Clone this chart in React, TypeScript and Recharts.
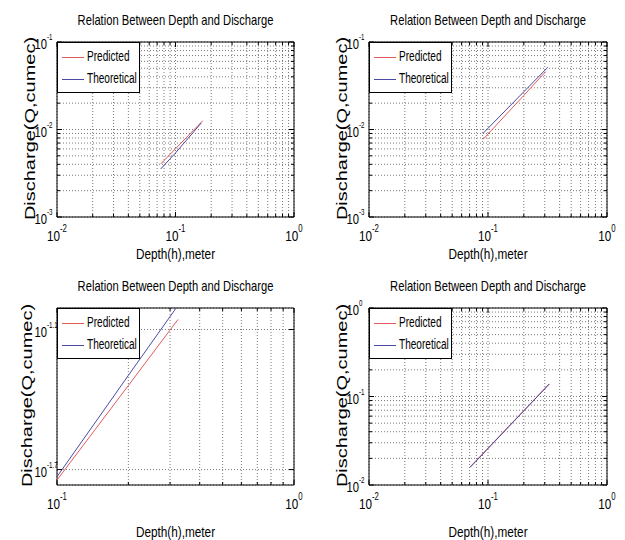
import React from 'react';
import { LineChart, Line, XAxis, YAxis, CartesianGrid, Legend, ReferenceArea } from 'recharts';

const FONT = "'Liberation Sans', Arial, sans-serif";
const RED = '#e05a5c';
const BLUE = '#4a4aa4';
const TITLE = 'Relation Between Depth and Discharge';

// depth (m) and discharge (cumec)
const depth1Pred = [0.075, 0.1, 0.17];
const flow1Pred = [0.00403, 0.00603, 0.01262];
const depth1Theo = [0.075, 0.1, 0.165];
const flow1Theo = [0.00354, 0.0054, 0.01187];

const depth2Pred = [0.091, 0.2, 0.305];
const flow2Pred = [0.00773, 0.0245, 0.0458];
const depth2Theo = [0.091, 0.2, 0.318];
const flow2Theo = [0.00906, 0.027, 0.0514];

const depth3Pred = [0.1, 0.2, 0.324];
const flow3Pred = [0.018, 0.0457, 0.0877];
const depth3Theo = [0.1, 0.2, 0.34];
const flow3Theo = [0.0186, 0.0505, 0.108];

const depth4Pred = [0.0707, 0.15, 0.327];
const flow4Pred = [0.016, 0.0462, 0.139];
const depth4Theo = [0.0707, 0.15, 0.327];
const flow4Theo = [0.0158, 0.0458, 0.138];

// ticks (grid lines) and labelled ticks
const ticksE2toE0 = [0.01, 0.02, 0.03, 0.04, 0.05, 0.06, 0.07, 0.08, 0.09, 0.1, 0.2, 0.3, 0.4, 0.5, 0.6, 0.7, 0.8, 0.9, 1];
const ticksE3toE1 = [0.001, 0.002, 0.003, 0.004, 0.005, 0.006, 0.007, 0.008, 0.009, 0.01, 0.02, 0.03, 0.04, 0.05, 0.06, 0.07, 0.08, 0.09, 0.1];
const ticksE1toE0 = [0.1, 0.2, 0.3, 0.4, 0.5, 0.6, 0.7, 0.8, 0.9, 1];
const ticksPanel3Y = [0.019953, 0.079433];
const labelsE2toE0 = [0.01, 0.1, 1];
const labelsE3toE1 = [0.001, 0.01, 0.1];
const labelsE1toE0 = [0.1, 1];

const zip = (xs: number[], ys: number[]) => xs.map((x, i) => ({ x, y: ys[i] }));

const expText = (v: number) => {
  const e = Math.log10(v);
  return Math.abs(e - Math.round(e)) < 1e-4 ? String(Math.round(e)) : e.toFixed(1);
};
const isLabel = (labels: number[], v: number) => labels.some((l) => Math.abs(l - v) / l < 1e-4);

const XTick = (props: any) => {
  const { x, y, payload, plotTop, labels } = props;
  const lab = isLabel(labels, payload.value);
  const len = lab ? 5 : 3;
  return (
    <g>
      <line x1={x} x2={x} y1={y} y2={y - len} stroke="#000" />
      <line x1={x} x2={x} y1={plotTop} y2={plotTop + len} stroke="#000" />
      {lab && (
        <text transform={`translate(${x},${y + 24}) scale(0.78,1)`} textAnchor="middle"
          fontFamily={FONT} fontSize={15} fill="#000">
          10<tspan dy={-9} fontSize={10}>{expText(payload.value)}</tspan>
        </text>
      )}
    </g>
  );
};

const YTick = (props: any) => {
  const { x, y, payload, plotRight, labels } = props;
  const lab = isLabel(labels, payload.value);
  const len = lab ? 5 : 3;
  return (
    <g>
      <line x1={x} x2={x + len} y1={y} y2={y} stroke="#000" />
      <line x1={plotRight} x2={plotRight - len} y1={y} y2={y} stroke="#000" />
      {lab && (
        <g fontFamily={FONT} fill="#000">
          <text transform={`translate(${x - 10},${y + 7}) scale(0.75,1)`} textAnchor="end" fontSize={15}>10</text>
          <text transform={`translate(${x - 10},${y - 2}) scale(0.65,1)`} textAnchor="start" fontSize={9.5}>
            {expText(payload.value)}
          </text>
        </g>
      )}
    </g>
  );
};

const LegendBox = (props: any) => {
  const items = props.payload || [];
  return (
    <div style={{ width: 83, height: 51, border: '1px solid #000', background: '#fff', boxSizing: 'border-box', position: 'relative', fontFamily: FONT }}>
      {items.map((e: any, i: number) => (
        <div key={e.value} style={{ position: 'absolute', left: 0, top: 14 + 22 * i, width: 83 }}>
          <div style={{ position: 'absolute', left: 4, top: 0, width: 22, borderTop: `1px solid ${e.color}` }} />
          <span style={{ position: 'absolute', left: 29, top: -9, fontSize: 14, lineHeight: '16px', whiteSpace: 'nowrap', transform: 'scaleX(0.72)', transformOrigin: 'left center', color: '#000' }}>
            {e.value}
          </span>
        </div>
      ))}
    </div>
  );
};

type Pt = { x: number; y: number };
type PanelProps = {
  left: number; top: number; width: number; height: number;
  marginTop: number; marginBottom: number; xLabelOffset: number; yLabelX: number;
  xDomain: [number, number]; yDomain: [number, number];
  xTicks: number[]; yTicks: number[]; xLabels: number[]; yLabels: number[];
  pred: Pt[]; theo: Pt[];
};

const Panel = (p: PanelProps) => {
  const plotLeft = 57;
  const plotRight = p.width - 18;
  const plotTop = p.marginTop;
  const plotBottom = p.height - p.marginBottom - 30;
  return (
    <div style={{ position: 'absolute', left: p.left, top: p.top, width: p.width, height: p.height }}>
      <LineChart width={p.width} height={p.height}
        margin={{ top: p.marginTop, right: 18, bottom: p.marginBottom, left: 0 }}>
        <CartesianGrid stroke="#7a7a7a" strokeDasharray="1 2" />
        <XAxis dataKey="x" type="number" scale="log" domain={p.xDomain} allowDataOverflow
          ticks={p.xTicks} interval={0} height={30} axisLine={false} tickLine={false} tickSize={0} tickMargin={0}
          tick={(t: any) => <XTick {...t} plotTop={plotTop} labels={p.xLabels} />}
          label={(l: any) => {
            const vb = l.viewBox || { x: plotLeft, y: plotBottom, width: plotRight - plotLeft };
            return (
              <text transform={`translate(${vb.x + vb.width / 2},${vb.y + p.xLabelOffset}) scale(0.76,1)`}
                textAnchor="middle" fontFamily={FONT} fontSize={15.5} fill="#000">Depth(h),meter</text>
            );
          }} />
        <YAxis dataKey="y" type="number" scale="log" domain={p.yDomain} allowDataOverflow
          ticks={p.yTicks} interval={0} width={57} axisLine={false} tickLine={false} tickSize={0} tickMargin={0}
          tick={(t: any) => <YTick {...t} plotRight={plotRight} labels={p.yLabels} />}
          label={() => (
            <text transform={`translate(${p.yLabelX},${(plotTop + plotBottom) / 2 - 1}) scale(0.7,1) rotate(-90)`}
              textAnchor="middle" fontFamily={FONT} fontSize={20} fill="#000">Discharge(Q,cumec)</text>
          )} />
        <Line data={p.pred} dataKey="y" name="Predicted" stroke={RED} strokeWidth={1} dot={false} isAnimationActive={false} />
        <Line data={p.theo} dataKey="y" name="Theoretical" stroke={BLUE} strokeWidth={1} dot={false} isAnimationActive={false} />
        <ReferenceArea x1={p.xDomain[0]} x2={p.xDomain[1]} y1={p.yDomain[0]} y2={p.yDomain[1]}
          fill="none" fillOpacity={0} stroke="#000" strokeWidth={1} />
        <Legend layout="vertical" align="center" verticalAlign="middle" content={LegendBox}
          wrapperStyle={{ left: plotLeft, top: plotTop, width: 83, height: 51 }} />
      </LineChart>
      <svg width={p.width} height={30} style={{ position: 'absolute', left: 0, top: plotTop - 42, pointerEvents: 'none' }}>
        <text transform={`translate(${(plotLeft + plotRight) / 2},25) scale(0.8,1)`} textAnchor="middle"
          fontFamily={FONT} fontSize={14} fill="#000">{TITLE}</text>
      </svg>
    </div>
  );
};

export default function App() {
  return (
    <div style={{ position: 'absolute', left: 0, top: 0, width: 625, height: 540, background: '#fff', overflow: 'hidden' }}>
      <Panel left={0} top={0} width={312} height={270} marginTop={42} marginBottom={23} xLabelOffset={42} yLabelX={35}
        xDomain={[0.01, 1]} yDomain={[0.001, 0.1]} xTicks={ticksE2toE0} yTicks={ticksE3toE1}
        xLabels={labelsE2toE0} yLabels={labelsE3toE1}
        pred={zip(depth1Pred, flow1Pred)} theo={zip(depth1Theo, flow1Theo)} />
      <Panel left={312} top={0} width={313} height={270} marginTop={42} marginBottom={23} xLabelOffset={42} yLabelX={35}
        xDomain={[0.01, 1]} yDomain={[0.001, 0.1]} xTicks={ticksE2toE0} yTicks={ticksE3toE1}
        xLabels={labelsE2toE0} yLabels={labelsE3toE1}
        pred={zip(depth2Pred, flow2Pred)} theo={zip(depth2Theo, flow2Theo)} />
      <Panel left={0} top={270} width={312} height={270} marginTop={38} marginBottom={25} xLabelOffset={52} yLabelX={32}
        xDomain={[0.1, 1]} yDomain={[0.01714, 0.0982]} xTicks={ticksE1toE0} yTicks={ticksPanel3Y}
        xLabels={labelsE1toE0} yLabels={ticksPanel3Y}
        pred={zip(depth3Pred, flow3Pred)} theo={zip(depth3Theo, flow3Theo)} />
      <Panel left={312} top={270} width={313} height={270} marginTop={38} marginBottom={25} xLabelOffset={52} yLabelX={35}
        xDomain={[0.01, 1]} yDomain={[0.01, 1]} xTicks={ticksE2toE0} yTicks={ticksE2toE0}
        xLabels={labelsE2toE0} yLabels={labelsE2toE0}
        pred={zip(depth4Pred, flow4Pred)} theo={zip(depth4Theo, flow4Theo)} />
    </div>
  );
}
